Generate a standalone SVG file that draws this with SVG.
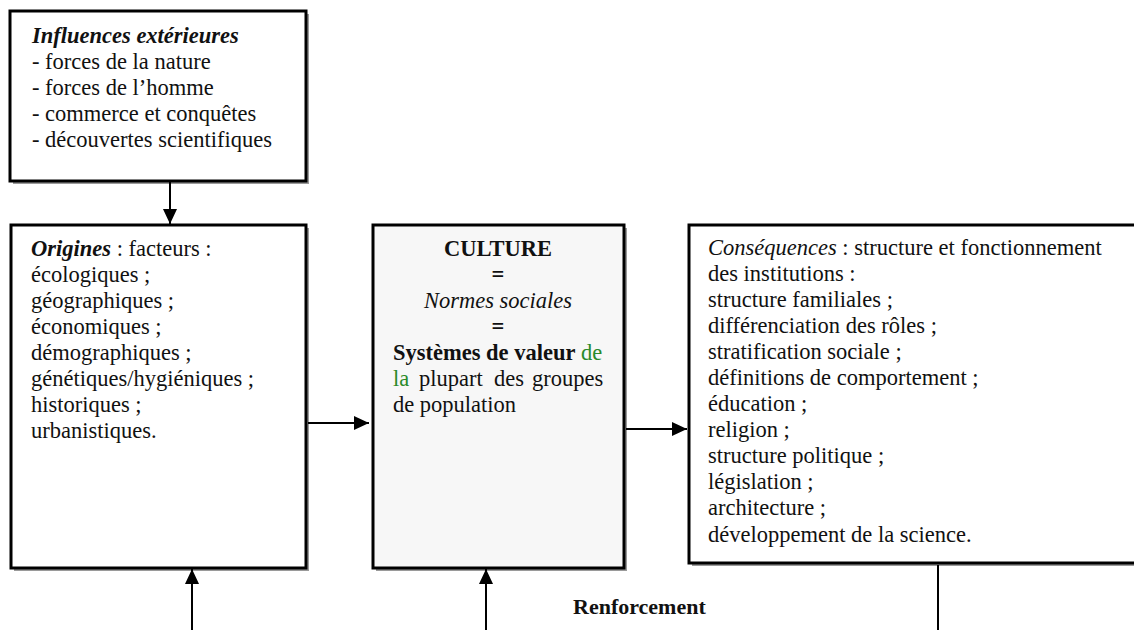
<svg xmlns="http://www.w3.org/2000/svg" width="1134" height="630" viewBox="0 0 1134 630">
  <style>
    text { font-family: 'Liberation Serif', 'Times New Roman', serif; font-size: 22.5px; fill: #111; }
    .it { font-style: italic; }
    .b { font-weight: bold; }
    .green { fill: #2a8a2a; }
    .box { fill: #ffffff; stroke: #000; stroke-width: 3; }
    .shade { fill: #9a9a9a; }
    .wire { stroke: #000; stroke-width: 2; fill: none; }
  </style>
  <defs>
    <marker id="arrow" viewBox="0 0 15 14" refX="15" refY="7" markerWidth="15" markerHeight="14" markerUnits="userSpaceOnUse" orient="auto">
      <path d="M0,0 L15,7 L0,14 Z" fill="#000"/>
    </marker>
  </defs>

  <rect width="1134" height="630" fill="#ffffff"/>

  <!-- External influences -->
  <g id="influences">
    <rect class="shade" x="13" y="14" width="296" height="170"/>
    <rect class="box" x="10" y="11" width="296" height="170"/>
    <text x="32" y="43"><tspan class="it b">Influences extérieures</tspan></text>
    <text x="32" y="69">- forces de la nature</text>
    <text x="32" y="95">- forces de l’homme</text>
    <text x="32" y="121">- commerce et conquêtes</text>
    <text x="32" y="147">- découvertes scientifiques</text>
  </g>

  <!-- Origins -->
  <g id="origines">
    <rect class="shade" x="14" y="228" width="295" height="343"/>
    <rect class="box" x="11" y="225" width="295" height="343"/>
    <text x="31" y="256"><tspan class="it b">Origines</tspan> : facteurs :</text>
    <text x="31" y="282">écologiques ;</text>
    <text x="31" y="308">géographiques ;</text>
    <text x="31" y="334">économiques ;</text>
    <text x="31" y="360">démographiques ;</text>
    <text x="31" y="386">génétiques/hygiéniques ;</text>
    <text x="31" y="412">historiques ;</text>
    <text x="31" y="438">urbanistiques.</text>
  </g>

  <!-- Culture -->
  <g id="culture">
    <rect class="shade" x="376" y="228" width="251" height="343"/>
    <rect class="box" x="373" y="225" width="251" height="343" style="fill:#f7f7f7"/>
    <text x="498" y="256" text-anchor="middle" class="b">CULTURE</text>
    <text x="498" y="282" text-anchor="middle" class="b">=</text>
    <text x="498" y="308" text-anchor="middle" class="it">Normes sociales</text>
    <text x="498" y="334" text-anchor="middle" class="b">=</text>
    <text x="393" y="360"><tspan class="b">Systèmes de valeur</tspan><tspan x="581" class="green">de</tspan></text>
    <text y="386"><tspan x="393" class="green">la</tspan><tspan x="419">plupart</tspan><tspan x="494">des</tspan><tspan x="532">groupes</tspan></text>
    <text x="393" y="412">de population</text>
  </g>

  <!-- Consequences -->
  <g id="consequences">
    <rect class="shade" x="692" y="228" width="450" height="338"/>
    <rect class="box" x="689" y="225" width="450" height="338"/>
    <text x="708" y="255"><tspan class="it">Conséquences</tspan> : structure et fonctionnement</text>
    <text x="708" y="281">des institutions :</text>
    <text x="708" y="307">structure familiales ;</text>
    <text x="708" y="333">différenciation des rôles ;</text>
    <text x="708" y="359">stratification sociale ;</text>
    <text x="708" y="385">définitions de comportement ;</text>
    <text x="708" y="411">éducation ;</text>
    <text x="708" y="437">religion ;</text>
    <text x="708" y="463">structure politique ;</text>
    <text x="708" y="489">législation ;</text>
    <text x="708" y="515">architecture ;</text>
    <text x="708" y="542">développement de la science.</text>
  </g>

  <!-- Reinforcement label -->
  <g id="renforcement">
    <text x="573" y="614" class="b" style="font-size:22px">Renforcement</text>
  </g>

  <!-- Connectors -->
  <g id="connectors">
    <line class="wire" x1="170" y1="182" x2="170" y2="224" marker-end="url(#arrow)"/>
    <line class="wire" x1="308" y1="423" x2="369" y2="423" marker-end="url(#arrow)"/>
    <line class="wire" x1="626" y1="429" x2="687" y2="429" marker-end="url(#arrow)"/>
    <line class="wire" x1="192" y1="630" x2="192" y2="569" marker-end="url(#arrow)"/>
    <line class="wire" x1="486" y1="630" x2="486" y2="569" marker-end="url(#arrow)"/>
    <line class="wire" x1="938" y1="565" x2="938" y2="630"/>
  </g>
</svg>
